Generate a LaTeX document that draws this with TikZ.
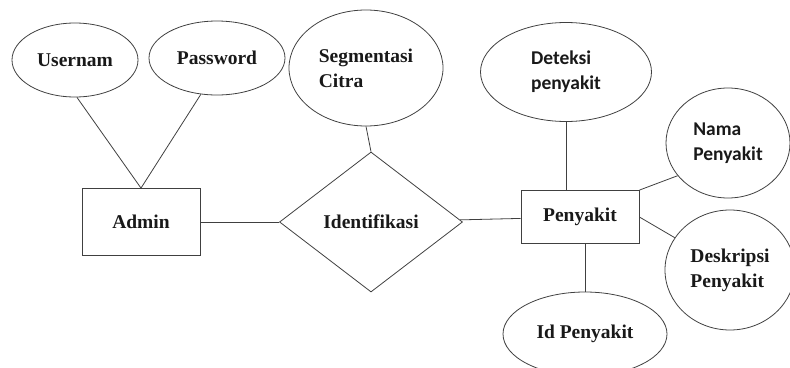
\documentclass[tikz,border=0pt]{standalone}
\usepackage{fontspec}
\setmainfont{Liberation Serif}
\newfontfamily\timesfont{Liberation Serif}
\newfontfamily\calfont{Carlito}
\usetikzlibrary{shapes.geometric}
\usetikzlibrary{positioning}

\tikzset{
  erfont/.style={font=\fontsize{19.5}{25}\selectfont\timesfont\bfseries,text=black!90},
  calibri/.style={font=\fontsize{19.5}{25}\selectfont\calfont\bfseries},
  entity/.style={rectangle,draw=black!75,line width=0.8pt,minimum width=118pt,erfont},
  attr/.style={ellipse,draw=black!75,line width=0.8pt,inner sep=0pt,align=left,erfont},
  rel/.style={diamond,draw=black!75,line width=0.8pt,minimum width=183pt,minimum height=140pt,inner sep=0pt,erfont},
  link/.style={draw=black!75,line width=0.8pt}
}

\begin{document}
\begin{tikzpicture}[x=1pt,y=-1pt]
\useasboundingbox (0,0) rectangle (790,367);
% entitas dan relasi
\node at (141,222)[entity,minimum height=67pt](admin){Admin};
\node at (580,217)[entity,minimum height=53pt](pny){Penyakit};
\node at (371,222)[rel](idf){Identifikasi};
% atribut
\node at (75,60)[attr,minimum width=126pt,minimum height=74pt](usr){Usernam};
\node at (217,58)[attr,minimum width=136pt,minimum height=74pt](pwd){Password};
\node at (366,68)[attr,minimum width=154pt,minimum height=116pt](segm){Segmentasi\\Citra};
\node at (730,270)[attr,minimum width=130pt,minimum height=120pt](desk){Deskripsi\\Penyakit};
\node at (585,334)[attr,minimum width=164pt,minimum height=84pt](idp){Id Penyakit};
\node at (566,72)[attr,calibri,minimum width=171pt,minimum height=99pt](dtk){Deteksi\\penyakit};
\node at (728,143)[attr,calibri,minimum width=124pt,minimum height=110pt](nama){Nama\\Penyakit};
% garis
\draw[link] (usr.-87) -- (admin.north);
\draw[link] (pwd.-114) -- (admin.north);
\draw[link] (admin) -- (idf);
\draw[link] (idf) -- (pny);
\draw[link] (segm.south) -- (idf.north);
\draw[link] (dtk.south) -- (dtk.south |- pny.north);
\draw[link] (nama.-147) -- (pny.north east);
\draw[link] (pny.east) -- (desk);
\draw[link] (idp.north) -- (idp.north |- pny.south);
\end{tikzpicture}
\end{document}
